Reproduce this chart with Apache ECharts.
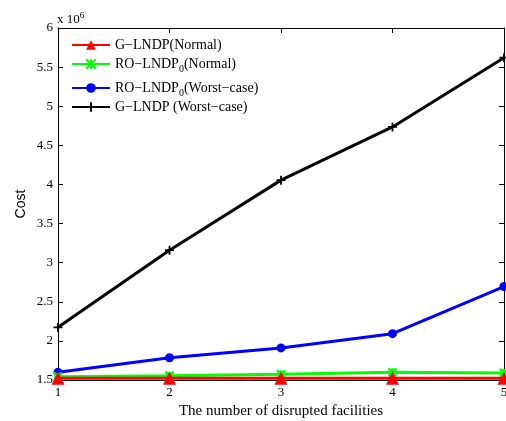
<!DOCTYPE html>
<html>
<head>
<meta charset="utf-8">
<script src="https://cdn.jsdelivr.net/npm/echarts@6/dist/echarts.min.js"></script>
<style>
  html, body { margin: 0; padding: 0; background: #fff; }
  #chart { width: 506px; height: 421px; }
</style>
</head>
<body>
<div id="chart"></div>
<script>
// Number of disrupted facilities
const facilities = [1, 2, 3, 4, 5];
// Cost values, in units of 10^6
const gNormal     = [1.522, 1.522, 1.522, 1.522, 1.522];
const roNormal    = [1.542, 1.555, 1.573, 1.598, 1.590];
const roWorst     = [1.598, 1.785, 1.910, 2.092, 2.695];
const gWorst      = [2.174, 3.160, 4.055, 4.735, 5.620];
const yTicks = [1.5, 2, 2.5, 3, 3.5, 4, 4.5, 5, 5.5, 6];

const names = ['G−LNDP(Normal)', 'RO−LNDP0(Normal)', 'RO−LNDP0(Worst−case)', 'G−LNDP (Worst−case)'];
const labels = ['G−LNDP(Normal)', 'RO−LNDP{sub|0}(Normal)', 'RO−LNDP{sub|0}(Worst−case)', 'G−LNDP (Worst−case)'];

const serif = 'Liberation Serif, Times New Roman, serif';
const crossPath = 'path://M0,0 L10,10 M10,0 L0,10 M5,0 L5,10 M0,5 L10,5';
const plusPath = 'path://M4,0 L6,0 L6,4 L10,4 L10,6 L6,6 L6,10 L4,10 L4,6 L0,6 L0,4 L4,4 Z';

function pairs(vals) { return facilities.map((f, i) => [f, vals[i]]); }

const seriesDefs = [
  { name: names[3], data: gWorst, color: '#000000', symbol: plusPath, size: 9, z: 3 },
  { name: names[2], data: roWorst, color: '#0000ff', symbol: 'circle', size: 9, z: 4 },
  { name: names[1], data: roNormal, color: '#00ff00', symbol: crossPath, size: 8, z: 5 },
  { name: names[0], data: gNormal, color: '#ff0000', symbol: 'triangle', size: 13, z: 6 }
];

const legendTops = [33, 52, 76, 95];

const chart = echarts.init(document.getElementById('chart'), null, { renderer: 'canvas' });
chart.setOption({
  animation: false,
  backgroundColor: '#ffffff',
  grid: { left: 58, right: 2, top: 28, bottom: 41, containLabel: false, outerBoundsMode: 'none' },
  legend: names.map((n, i) => ({
    data: [n],
    left: 66,
    top: legendTops[i],
    itemWidth: 38,
    itemHeight: 12,
    itemGap: 4,
    selectedMode: false,
    formatter: () => labels[i],
    textStyle: {
      fontFamily: serif, fontSize: 14, color: '#000',
      rich: { sub: { fontFamily: serif, fontSize: 10, verticalAlign: 'bottom', padding: [10, 0, 0, 0] } }
    }
  })),
  xAxis: [
    {
      type: 'value', min: 1, max: 5, interval: 1, position: 'bottom',
      name: 'The number of disrupted facilities', nameLocation: 'middle', nameGap: 20,
      nameTextStyle: { fontFamily: serif, fontSize: 15, color: '#000' },
      axisLine: { show: true, lineStyle: { color: '#000', width: 1 } },
      axisTick: { show: true, inside: true, length: 5, lineStyle: { color: '#000' } },
      axisLabel: { fontFamily: serif, fontSize: 13, color: '#000', margin: 6 },
      splitLine: { show: false }
    },
    {
      type: 'value', min: 1, max: 5, interval: 1, position: 'top',
      axisLine: { show: true, lineStyle: { color: '#000', width: 1 } },
      axisTick: { show: true, inside: true, length: 5, lineStyle: { color: '#000' } },
      axisLabel: { show: false },
      splitLine: { show: false }
    }
  ],
  yAxis: [
    {
      type: 'value', min: 1.5, max: 6, interval: 0.5, position: 'left',
      name: 'Cost', nameLocation: 'middle', nameGap: 30, nameMoveOverlap: false,
      nameTextStyle: { fontFamily: 'Liberation Sans, Arial, sans-serif', fontSize: 14, color: '#000' },
      axisLine: { show: true, lineStyle: { color: '#000', width: 1 } },
      axisTick: { show: true, inside: true, length: 5, lineStyle: { color: '#000' } },
      axisLabel: {
        fontFamily: serif, fontSize: 13, color: '#000', margin: 5,
        formatter: v => String(Math.round(v * 10) / 10)
      },
      splitLine: { show: false }
    },
    {
      type: 'value', min: 1.5, max: 6, interval: 0.5, position: 'right',
      axisLine: { show: true, lineStyle: { color: '#000', width: 1 } },
      axisTick: { show: true, inside: true, length: 5, lineStyle: { color: '#000' } },
      axisLabel: { show: false },
      splitLine: { show: false }
    }
  ],
  graphic: [
    {
      type: 'text', left: 57, top: 11,
      style: {
        text: 'x 10{sup|6}', fontFamily: serif, fontSize: 13, fill: '#000',
        rich: { sup: { fontFamily: serif, fontSize: 9, verticalAlign: 'top', padding: [0, 0, 8, 0] } }
      }
    }
  ],
  series: seriesDefs.map(s => ({
    name: s.name,
    type: 'line',
    xAxisIndex: 0, yAxisIndex: 0,
    data: pairs(s.data),
    z: s.z,
    symbol: s.symbol,
    symbolSize: s.size,
    showAllSymbol: true,
    clip: false,
    lineStyle: { color: s.color, width: 3 },
    itemStyle: { color: s.color, borderColor: s.color, borderWidth: s.symbol === crossPath ? 2.5 : 0 },
    emphasis: { disabled: true }
  }))
});
</script>
</body>
</html>
